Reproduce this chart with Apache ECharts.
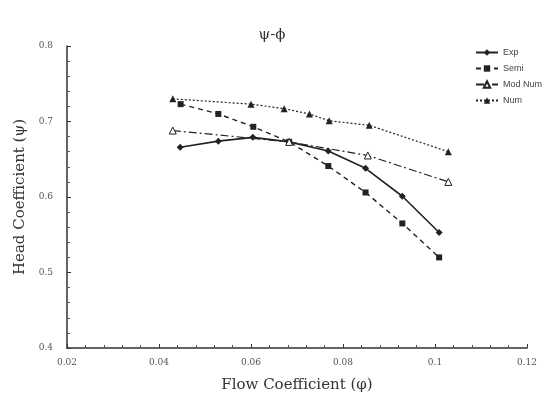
<!DOCTYPE html>
<html>
<head>
<meta charset="utf-8">
<script src="https://cdn.jsdelivr.net/npm/echarts@6/dist/echarts.min.js"></script>
<style>html,body{margin:0;padding:0;background:#fff}#chart{width:544px;height:398px}</style>
</head>
<body>
<div id="chart"></div>
<script>
// values (flow coefficient, head coefficient)
const expX = [0.0446, 0.0529, 0.0604, 0.0683, 0.0768, 0.0849, 0.0929, 0.1009];
const expY = [0.666, 0.674, 0.679, 0.673, 0.661, 0.638, 0.601, 0.553];
const semiX = [0.0447, 0.0529, 0.0605, 0.0683, 0.0768, 0.0849, 0.0929, 0.1009];
const semiY = [0.723, 0.710, 0.693, 0.673, 0.641, 0.606, 0.565, 0.520];
const modX = [0.0430, 0.0683, 0.0854, 0.1029];
const modY = [0.688, 0.673, 0.655, 0.620];
const numX = [0.0430, 0.0600, 0.0672, 0.0727, 0.0770, 0.0857, 0.1029];
const numY = [0.730, 0.723, 0.717, 0.710, 0.701, 0.695, 0.660];

const xTicks = ['0.02', '0.04', '0.06', '0.08', '0.1', '0.12'];
const yTicks = ['0.4', '0.5', '0.6', '0.7', '0.8'];

const pairs = (xs, ys) => xs.map((x, i) => [x, ys[i]]);
const ink = '#222';
const serif = '"DejaVu Serif", "Liberation Serif", serif';

const chart = echarts.init(document.getElementById('chart'));

function line(name, xs, ys, symbol, size, type, width, hollow) {
  return {
    name, type: 'line', data: pairs(xs, ys),
    symbol, symbolSize: size,
    lineStyle: { color: ink, width, type },
    itemStyle: { color: hollow ? '#fff' : ink, borderColor: ink, borderWidth: hollow ? 1 : 0 },
    animation: false,
  };
}

chart.setOption({
  title: {
    text: 'ψ-ϕ', left: 'center', top: 23,
    textStyle: { fontFamily: serif, fontSize: 15, fontWeight: 'normal', color: '#333' },
  },
  legend: {
    orient: 'vertical', left: 470, top: 43, itemGap: 7,
    itemWidth: 22, itemHeight: 8,
    textStyle: { fontFamily: 'Liberation Sans, sans-serif', fontSize: 9, color: '#444' },
    data: ['Exp', 'Semi', 'Mod Num', 'Num'],
  },
  grid: { left: 67, right: 17, top: 46, bottom: 50, containLabel: false },
  xAxis: {
    type: 'value', min: 0.02, max: 0.12, interval: 0.02,
    name: 'Flow Coefficient (φ)', nameLocation: 'center', nameGap: 30,
    nameTextStyle: { fontFamily: serif, fontSize: 15, color: '#333' },
    axisLine: { lineStyle: { color: '#333', width: 1.5 } },
    axisTick: { inside: true, length: 4, lineStyle: { color: '#333' } },
    minorTick: { show: true, splitNumber: 5, length: 3, lineStyle: { color: '#555' } },
    splitLine: { show: false },
    axisLabel: {
      fontFamily: serif, fontSize: 9, color: '#555', margin: 10,
      formatter: (v) => xTicks[Math.round((v - 0.02) / 0.02)],
    },
  },
  yAxis: {
    type: 'value', min: 0.4, max: 0.8, interval: 0.1,
    name: 'Head Coefficient (ψ)', nameLocation: 'center', nameGap: 37,
    nameTextStyle: { fontFamily: serif, fontSize: 15, color: '#333' },
    axisLine: { show: true, lineStyle: { color: '#333', width: 1.5 } },
    axisTick: { show: true, inside: true, length: 4, lineStyle: { color: '#333' } },
    minorTick: { show: true, splitNumber: 5, length: 3, lineStyle: { color: '#555' } },
    splitLine: { show: false },
    axisLabel: {
      fontFamily: serif, fontSize: 9, color: '#555', margin: 14,
      formatter: (v) => yTicks[Math.round((v - 0.4) / 0.1)],
    },
  },
  series: [
    line('Exp', expX, expY, 'diamond', 7, 'solid', 1.6, false),
    line('Semi', semiX, semiY, 'rect', 6, [5, 4], 1.4, false),
    line('Mod Num', modX, modY, 'triangle', 7, [8, 3, 2, 3], 1.2, true),
    line('Num', numX, numY, 'triangle', 7, [2, 2], 1.2, false),
  ],
});
</script>
</body>
</html>
